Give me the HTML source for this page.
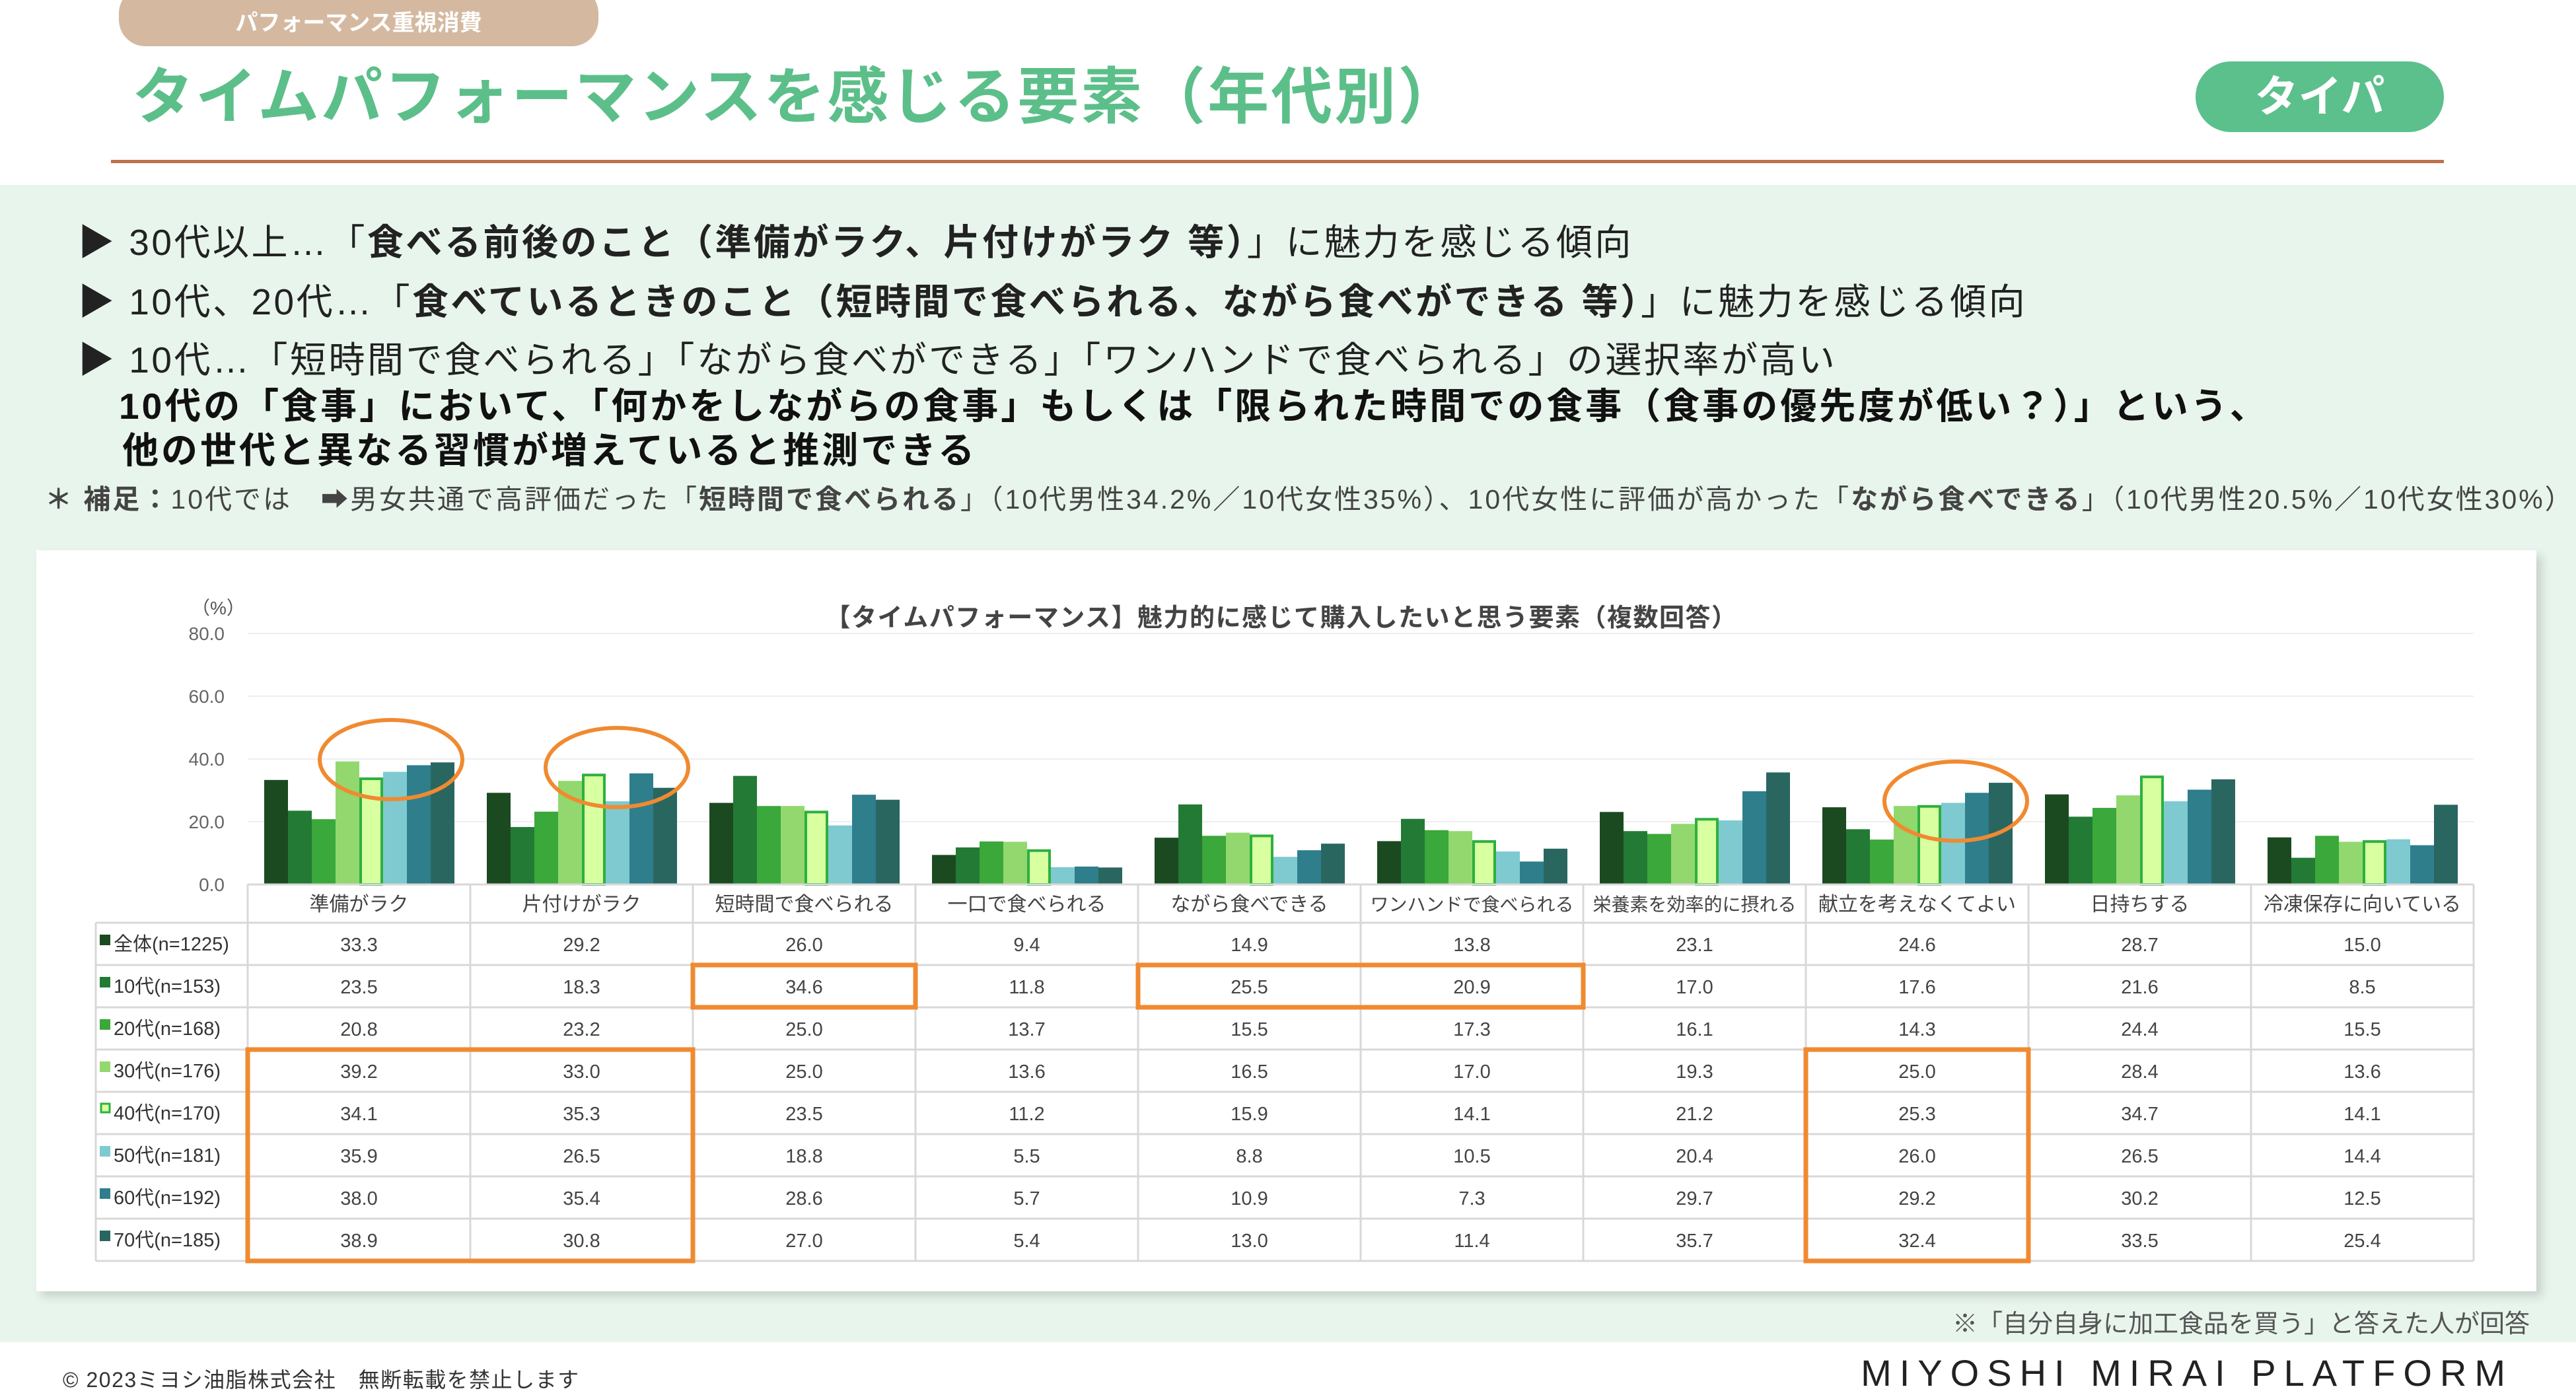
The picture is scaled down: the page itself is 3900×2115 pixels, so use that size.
<!DOCTYPE html>
<html><head><meta charset="utf-8"><style>
body{margin:0;width:3900px;height:2115px;position:relative;background:#fff;font-family:"Liberation Sans","Noto Sans CJK JP",sans-serif;overflow:hidden}
.abs{position:absolute;white-space:nowrap}
.b{font-weight:bold}
</style></head><body>
<div class="abs" style="left:180px;top:-20px;width:726px;height:90px;background:#d4b9a0;border-radius:40px;color:#fff;font-size:34px;font-weight:bold;text-align:center;line-height:110px">パフォーマンス重視消費</div>
<div class="abs b" style="left:200px;top:92px;font-size:93px;letter-spacing:3px;color:#5cbf8a;line-height:110px">タイムパフォーマンスを感じる要素（年代別）</div>
<div class="abs b" style="left:3324px;top:93px;width:376px;height:107px;background:#5cc08c;border-radius:54px;color:#fff;font-size:66px;text-align:center;line-height:107px">タイパ</div>
<div class="abs" style="left:168px;top:242px;width:3532px;height:5px;background:#c0704a"></div>
<div class="abs" style="left:0;top:280px;width:3900px;height:1752px;background:#e8f5ec"></div>
<div class="abs" style="left:118px;top:322px;font-size:55px;letter-spacing:3.5px;color:#222">▶ 30代以上…「<b>食べる前後のこと（準備がラク、片付けがラク 等）</b>」に魅力を感じる傾向</div>
<div class="abs" style="left:118px;top:412px;font-size:55px;letter-spacing:3.5px;color:#222">▶ 10代、20代…「<b>食べているときのこと（短時間で食べられる、ながら食べができる 等）</b>」に魅力を感じる傾向</div>
<div class="abs" style="left:118px;top:500px;font-size:55px;letter-spacing:3.5px;color:#222">▶ 10代…「短時間で食べられる」「ながら食べができる」「ワンハンドで食べられる」の選択率が高い</div>
<div class="abs b" style="left:180px;top:570px;font-size:55px;letter-spacing:4px;color:#111">10代の「食事」において、「何かをしながらの食事」もしくは「限られた時間での食事（食事の優先度が低い？）」という、</div>
<div class="abs b" style="left:185px;top:637px;font-size:55px;letter-spacing:4px;color:#111">他の世代と異なる習慣が増えていると推測できる</div>
<div class="abs" style="left:68px;top:722px;font-size:41px;letter-spacing:3px;color:#444"><b>＊ 補足：</b>10代では　➡男女共通で高評価だった「<b>短時間で食べられる</b>」（10代男性34.2%／10代女性35%）、10代女性に評価が高かった「<b>ながら食べできる</b>」（10代男性20.5%／10代女性30%）</div>
<div class="abs" style="left:55px;top:833px;width:3785px;height:1122px;background:#fff;box-shadow:8px 8px 14px rgba(0,0,0,0.15)"></div>
<div class="abs" style="right:70px;top:1973px;font-size:38px;color:#555">※「自分自身に加工食品を買う」と答えた人が回答</div>
<div class="abs" style="left:95px;top:2064px;font-size:32px;letter-spacing:1.5px;color:#333">© 2023ミヨシ油脂株式会社　無断転載を禁止します</div>
<div class="abs" style="right:95px;top:2046px;font-size:56px;letter-spacing:12px;color:#222">MIYOSHI MIRAI PLATFORM</div>

<svg id="chart" width="3900" height="2115" style="position:absolute;left:0;top:0" font-family="Liberation Sans, Noto Sans CJK JP, sans-serif"></svg>
<script>
const categories=["準備がラク","片付けがラク","短時間で食べられる","一口で食べられる","ながら食べできる","ワンハンドで食べられる","栄養素を効率的に摂れる","献立を考えなくてよい","日持ちする","冷凍保存に向いている"];
const groups=["全体(n=1225)","10代(n=153)","20代(n=168)","30代(n=176)","40代(n=170)","50代(n=181)","60代(n=192)","70代(n=185)"];
const vAll=[33.3,29.2,26.0,9.4,14.9,13.8,23.1,24.6,28.7,15.0];
const v10=[23.5,18.3,34.6,11.8,25.5,20.9,17.0,17.6,21.6,8.5];
const v20=[20.8,23.2,25.0,13.7,15.5,17.3,16.1,14.3,24.4,15.5];
const v30=[39.2,33.0,25.0,13.6,16.5,17.0,19.3,25.0,28.4,13.6];
const v40=[34.1,35.3,23.5,11.2,15.9,14.1,21.2,25.3,34.7,14.1];
const v50=[35.9,26.5,18.8,5.5,8.8,10.5,20.4,26.0,26.5,14.4];
const v60=[38.0,35.4,28.6,5.7,10.9,7.3,29.7,29.2,30.2,12.5];
const v70=[38.9,30.8,27.0,5.4,13.0,11.4,35.7,32.4,33.5,25.4];
const series=[vAll,v10,v20,v30,v40,v50,v60,v70];
const yTicks=[0,20,40,60,80];
const fills=["#1b4a21","#237a35","#3aa83a","#92d86e","#d8ffa0","#7ecad0","#2e7e8c","#2a6660"];
const svg=document.getElementById('chart');const NS="http://www.w3.org/2000/svg";
function mk(t,a,txt){const e=document.createElementNS(NS,t);for(const k in a)e.setAttribute(k,a[k]);if(txt!=null)e.textContent=txt;svg.appendChild(e);return e;}
const x0=375,colW=337,y0=1339,y80=959,tblTop=1339,hdrH=58,rowH=64;
const yS=v=>y0-(v/80)*(y0-y80);
const xC=i=>x0+i*colW;
let e;
e=mk('text',{x:1940,y:948,'text-anchor':'middle','font-size':38,'letter-spacing':1.5,'font-weight':'bold',fill:'#444'},'【タイムパフォーマンス】魅力的に感じて購入したいと思う要素（複数回答）');


e=mk('text',{x:290,y:930,'font-size':28,fill:'#555'},'（%）');


yTicks.forEach(t=>{
 if(t>0){e=mk('line',{x1:x0,x2:x0+10*colW,y1:yS(t),y2:yS(t),stroke:'#eeeeee','stroke-width':2});
 
 }
 e=mk('text',{x:340,y:yS(t)+10,'text-anchor':'end','font-size':28,fill:'#666'},t.toFixed(1));
 
 
});
const bw=36,gOff=25;
series.forEach((s,g)=>{s.forEach((v,i)=>{
 const x=xC(i)+gOff+g*bw;const y=yS(v);
 e=mk('rect',{x:g===4?x+2:x,y:g===4?y+2:y,width:g===4?bw-4:bw,height:g===4?y0-y-2:y0-y,fill:fills[g],stroke:g===4?'#2db040':'none','stroke-width':g===4?4:0});
 
 
});});
const tblBot=tblTop+hdrH+8*rowH;
for(let i=0;i<=10;i++){e=mk('line',{x1:xC(i),x2:xC(i),y1:tblTop,y2:tblBot,stroke:'#d8d8d8','stroke-width':3});
 
 }
e=mk('line',{x1:145,x2:145,y1:tblTop+hdrH,y2:tblBot,stroke:'#d8d8d8','stroke-width':3});


e=mk('line',{x1:x0,x2:xC(10),y1:tblTop,y2:tblTop,stroke:'#d8d8d8','stroke-width':3});


for(let r=0;r<=8;r++){const y=tblTop+hdrH+r*rowH;e=mk('line',{x1:145,x2:xC(10),y1:y,y2:y,stroke:'#d8d8d8','stroke-width':3});
 
 }
categories.forEach((c,i)=>{e=mk('text',{x:xC(i)+colW/2,y:tblTop+40,'text-anchor':'middle','font-size':c.length>10?28:30,fill:'#444'},c);
 
 });
groups.forEach((gname,g)=>{const yc=tblTop+hdrH+g*rowH+rowH/2;
 e=mk('rect',{x:g===4?153:151,y:yc-14,width:g===4?13:16,height:g===4?13:16,fill:fills[g],stroke:g===4?'#2db040':'none','stroke-width':g===4?3:0});
 
 
 e=mk('text',{x:172,y:yc+10,'font-size':29,fill:'#333'},gname);
 
 
 series[g].forEach((v,i)=>{e=mk('text',{x:xC(i)+colW/2,y:yc+11,'text-anchor':'middle','font-size':29,fill:'#444'},v.toFixed(1));
 
 });
});
const hl=[[2,3,1,1],[4,6,1,1],[0,2,3,5],[7,8,3,5]];
hl.forEach(h=>{const y=tblTop+hdrH+h[2]*rowH;e=mk('rect',{x:xC(h[0]),y:y,width:xC(h[1])-xC(h[0]),height:h[3]*rowH,fill:'none',stroke:'#f08a30','stroke-width':7});
 
 });
[[592,1150],[934,1162],[2961,1213]].forEach(c=>{e=mk('ellipse',{cx:c[0],cy:c[1],rx:108,ry:60,fill:'none',stroke:'#f08a30','stroke-width':6});
 
 });
</script>
</body></html>
